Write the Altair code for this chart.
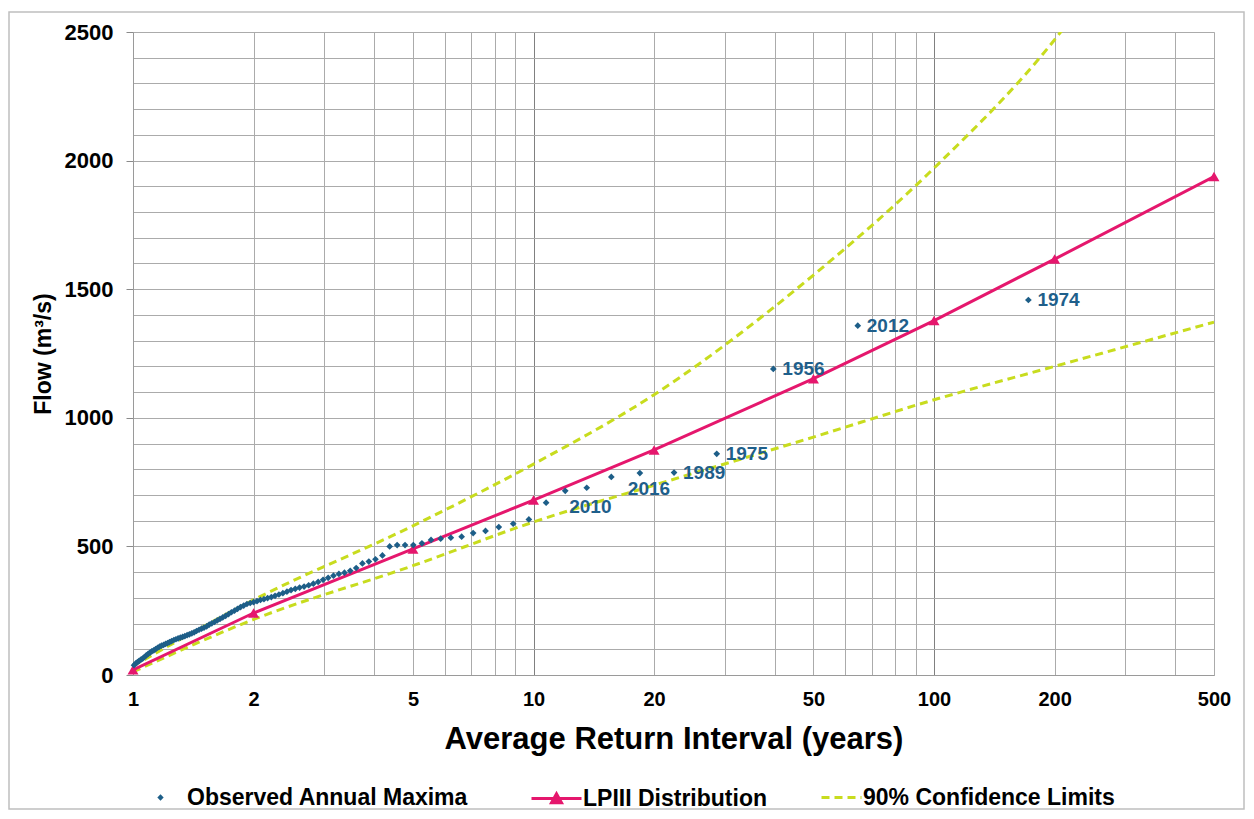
import altair as alt
import pandas as pd

# ---------------- data ----------------
# Observed annual maxima: average return interval (years) and flow (m3/s)
obs_T = [172.0, 64.5, 39.69, 28.67, 22.43, 18.43, 15.64, 13.58, 12.00, 10.75,
         9.736, 8.897, 8.190, 7.588, 7.068, 6.615, 6.217, 5.864, 5.548, 5.265,
         5.010, 4.778, 4.566, 4.373, 4.195, 4.031, 3.880, 3.739, 3.608, 3.486,
         3.373, 3.266, 3.166, 3.071, 2.983, 2.899, 2.820, 2.745, 2.674, 2.606,
         2.542, 2.481, 2.423, 2.367, 2.314, 2.263, 2.215, 2.168, 2.123, 2.081,
         2.040, 2.000, 1.962, 1.925, 1.890, 1.856, 1.823, 1.792, 1.761, 1.732,
         1.703, 1.675, 1.649, 1.623, 1.598, 1.573, 1.550, 1.527, 1.504, 1.483,
         1.462, 1.441, 1.421, 1.402, 1.383, 1.365, 1.347, 1.330, 1.313, 1.296,
         1.280, 1.265, 1.249, 1.234, 1.220, 1.206, 1.192, 1.178, 1.165, 1.152,
         1.139, 1.127, 1.114, 1.103, 1.091, 1.079, 1.068, 1.057, 1.047, 1.036,
         1.026, 1.016, 1.006]
obs_flow = [1458, 1358, 1190, 860, 787, 785, 770, 728, 716, 670,
            605, 588, 575, 560, 552, 538, 534, 530, 525, 512,
            505, 505, 505, 500, 465, 450, 441, 434, 416, 405,
            398, 393, 386, 378, 370, 362, 355, 349, 344, 340,
            335, 330, 324, 318, 313, 308, 303, 299, 295, 292,
            287, 283, 280, 276, 270, 264, 257, 250, 244, 237,
            230, 224, 218, 212, 206, 201, 196, 189, 184, 180,
            176, 171, 166, 162, 158, 155, 151, 148, 145, 142,
            139, 136, 132, 128, 124, 121, 117, 114, 110, 106,
            101, 96, 92, 87, 82, 76, 70, 64, 60, 55,
            50, 45, 38]

# labelled events (rank in the descending list -> year)
label_ranks = [1, 2, 3, 4, 5]
label_years = ["1974", "2012", "1956", "1975", "1989"]
label_low_ranks = [6, 9]
label_low_years = ["2016", "2010"]

# LPIII distribution
lp_T = [1, 2, 5, 10, 20, 50, 100, 200, 500]
lp_flow = [20, 241, 490, 680, 875, 1152, 1378, 1617, 1938]

# 90% confidence limits
cl_T = [1, 2, 5, 10, 20, 50, 100, 200, 500]
cl_upper = [35, 292, 580, 820, 1090, 1555, 1971, 2470, 3400]
cl_lower = [12, 216, 425, 595, 738, 925, 1070, 1200, 1372]

x_grid = [1, 2, 3, 4, 5, 6, 7, 8, 9, 10, 20, 30, 40, 50, 60, 70, 80, 90, 100,
          200, 300, 400, 500]
x_labels = [1, 2, 5, 10, 20, 50, 100, 200, 500]
y_grid = list(range(0, 2501, 100))

S_OBS = "Observed Annual Maxima"
S_LP = "LPIII Distribution"
S_CL = "90% Confidence Limits"

C_OBS = "#1D5E88"
C_LP = "#E5176D"
C_CL = "#C8DC1E"
C_TXT = "#1F5F8B"
C_GRID = "#ABABAB"
FONT = "Liberation Sans"

# ---------------- tables ----------------
obs = pd.DataFrame({"T": obs_T, "flow": obs_flow, "series": S_OBS})
lab = pd.DataFrame({"T": [obs_T[r - 1] for r in label_ranks],
                    "flow": [obs_flow[r - 1] for r in label_ranks],
                    "year": label_years})
lab_low = pd.DataFrame({"T": [obs_T[r - 1] for r in label_low_ranks],
                        "flow": [obs_flow[r - 1] for r in label_low_ranks],
                        "year": label_low_years})
lp = pd.DataFrame({"T": lp_T, "flow": lp_flow, "series": S_LP})
cl = pd.DataFrame({
    "T": cl_T + cl_T,
    "flow": cl_upper + cl_lower,
    "bound": ["upper"] * len(cl_T) + ["lower"] * len(cl_T),
    "series": S_CL,
})

# ---------------- encodings ----------------
x_scale = alt.Scale(type="log", domain=[1, 500], nice=False)
y_scale = alt.Scale(domain=[0, 2500], nice=False, zero=True)

x_axis = alt.Axis(
    values=x_grid,
    format="d",
    labelExpr="indexof([1,2,5,10,20,50,100,200,500], datum.value) >= 0 ? datum.label : ''",
    ticks=False,
    labelPadding=14,
    labelFontSize=20,
    labelFontWeight="bold",
    labelColor="black",
    labelFont=FONT,
    labelFlush=False,
    labelOverlap=False,
    title="Average Return Interval (years)",
    titleFontSize=31,
    titleFontWeight="bold",
    titleFont=FONT,
    titleColor="black",
    titlePadding=15,
    gridColor={"condition": {"test": "datum.value === 10 || datum.value === 100",
                             "value": "#808080"}, "value": C_GRID},
    gridWidth=1,
    domainColor="#9A9A9A",
)
y_axis = alt.Axis(
    values=y_grid,
    format="d",
    labelExpr="datum.value % 500 === 0 ? datum.label : ''",
    tickSize=7,
    tickColor="#8A8A8A",
    tickOpacity={"condition": {"test": "datum.value % 500 === 0", "value": 1}, "value": 0},
    labelPadding=13,
    labelFontSize=22,
    labelFontWeight="bold",
    labelColor="black",
    labelFont=FONT,
    labelOverlap=False,
    title="Flow (m³/s)",
    titleFontSize=23,
    titleFontWeight="bold",
    titleFont=FONT,
    titleColor="black",
    titlePadding=9,
    gridColor=C_GRID,
    gridWidth=1,
    domainColor="#9A9A9A",
)

X = alt.X("T:Q", scale=x_scale, axis=x_axis)
Y = alt.Y("flow:Q", scale=y_scale, axis=y_axis)

LEG_COMMON = dict(
    orient="none",
    title=None,
    labelFont=FONT,
    labelFontSize=23,
    labelFontWeight="bold",
    labelColor="black",
    labelLimit=500,
    padding=0,
)

# ---------------- layers ----------------
cl_layer = alt.Chart(cl).mark_line(
    color=C_CL, strokeWidth=3, clip=True, interpolate="monotone"
).encode(
    x=X, y=Y, detail="bound:N",
    strokeDash=alt.StrokeDash(
        "series:N",
        scale=alt.Scale(domain=[S_CL], range=[[8, 5]]),
        legend=alt.Legend(
            legendX=687, legendY=744,
            symbolType="M-1,0L1,0",
            symbolSize=1600,
            symbolStrokeColor=C_CL,
            symbolStrokeWidth=3,
            labelOffset=0,
            **LEG_COMMON,
        ),
    ),
)

lp_line = alt.Chart(lp).mark_line(strokeWidth=3, clip=True).encode(
    x=X, y=Y,
    stroke=alt.Stroke(
        "series:N",
        scale=alt.Scale(domain=[S_LP], range=[C_LP]),
        legend=alt.Legend(
            legendX=397, legendY=740,
            symbolType="M-1,0L1,0M-0.2,0.17L0,-0.19L0.2,0.17Z",
            symbolSize=2500,
            symbolStrokeWidth=3,
            symbolFillColor=C_LP,
            symbolStrokeColor=C_LP,
            labelOffset=0,
            **LEG_COMMON,
        ),
    ),
)

lp_pts = alt.Chart(lp).mark_point(
    shape="triangle-up", filled=True, size=120, color=C_LP, opacity=1
).encode(x=X, y=Y)

obs_pts = alt.Chart(obs).mark_point(
    shape="diamond", filled=True, size=45, opacity=1
).encode(
    x=X, y=Y,
    color=alt.Color(
        "series:N",
        scale=alt.Scale(domain=[S_OBS], range=[C_OBS]),
        legend=alt.Legend(
            legendX=16, legendY=754,
            symbolType="diamond",
            symbolSize=40,
            symbolOpacity=1,
            labelOffset=15,
            **LEG_COMMON,
        ),
    ),
)

txt_kw = dict(font=FONT, fontSize=19, fontWeight="bold", color=C_TXT,
              align="left", baseline="middle")
labels_right = alt.Chart(lab).mark_text(dx=9, dy=0, **txt_kw).encode(
    x=X, y=Y, text="year:N")
label_2016 = alt.Chart(lab_low[lab_low["year"] == "2016"]).mark_text(
    dx=-12, dy=16, **txt_kw).encode(x=X, y=Y, text="year:N")
label_2010 = alt.Chart(lab_low[lab_low["year"] == "2010"]).mark_text(
    dx=4, dy=16, **txt_kw).encode(x=X, y=Y, text="year:N")

frame = alt.Chart(pd.DataFrame({"k": [0]})).mark_rect(
    fill="transparent", stroke="#BFBFBF", strokeWidth=1.5
).encode(
    x=alt.value(-124), x2=alt.value(1111),
    y=alt.value(-20), y2=alt.value(777),
)

chart = alt.layer(
    cl_layer, lp_line, lp_pts, obs_pts, labels_right, label_2016, label_2010, frame
).properties(
    width=1081,
    height=643,
    autosize=alt.AutoSizeParams(type="none"),
    padding={"left": 125, "top": 24, "right": 32, "bottom": 136},
    background="white",
).configure_view(
    stroke="#9A9A9A", strokeWidth=1
).configure(
    font=FONT
)

chart.save("out.html", embed_options={"renderer": "svg", "actions": False})
